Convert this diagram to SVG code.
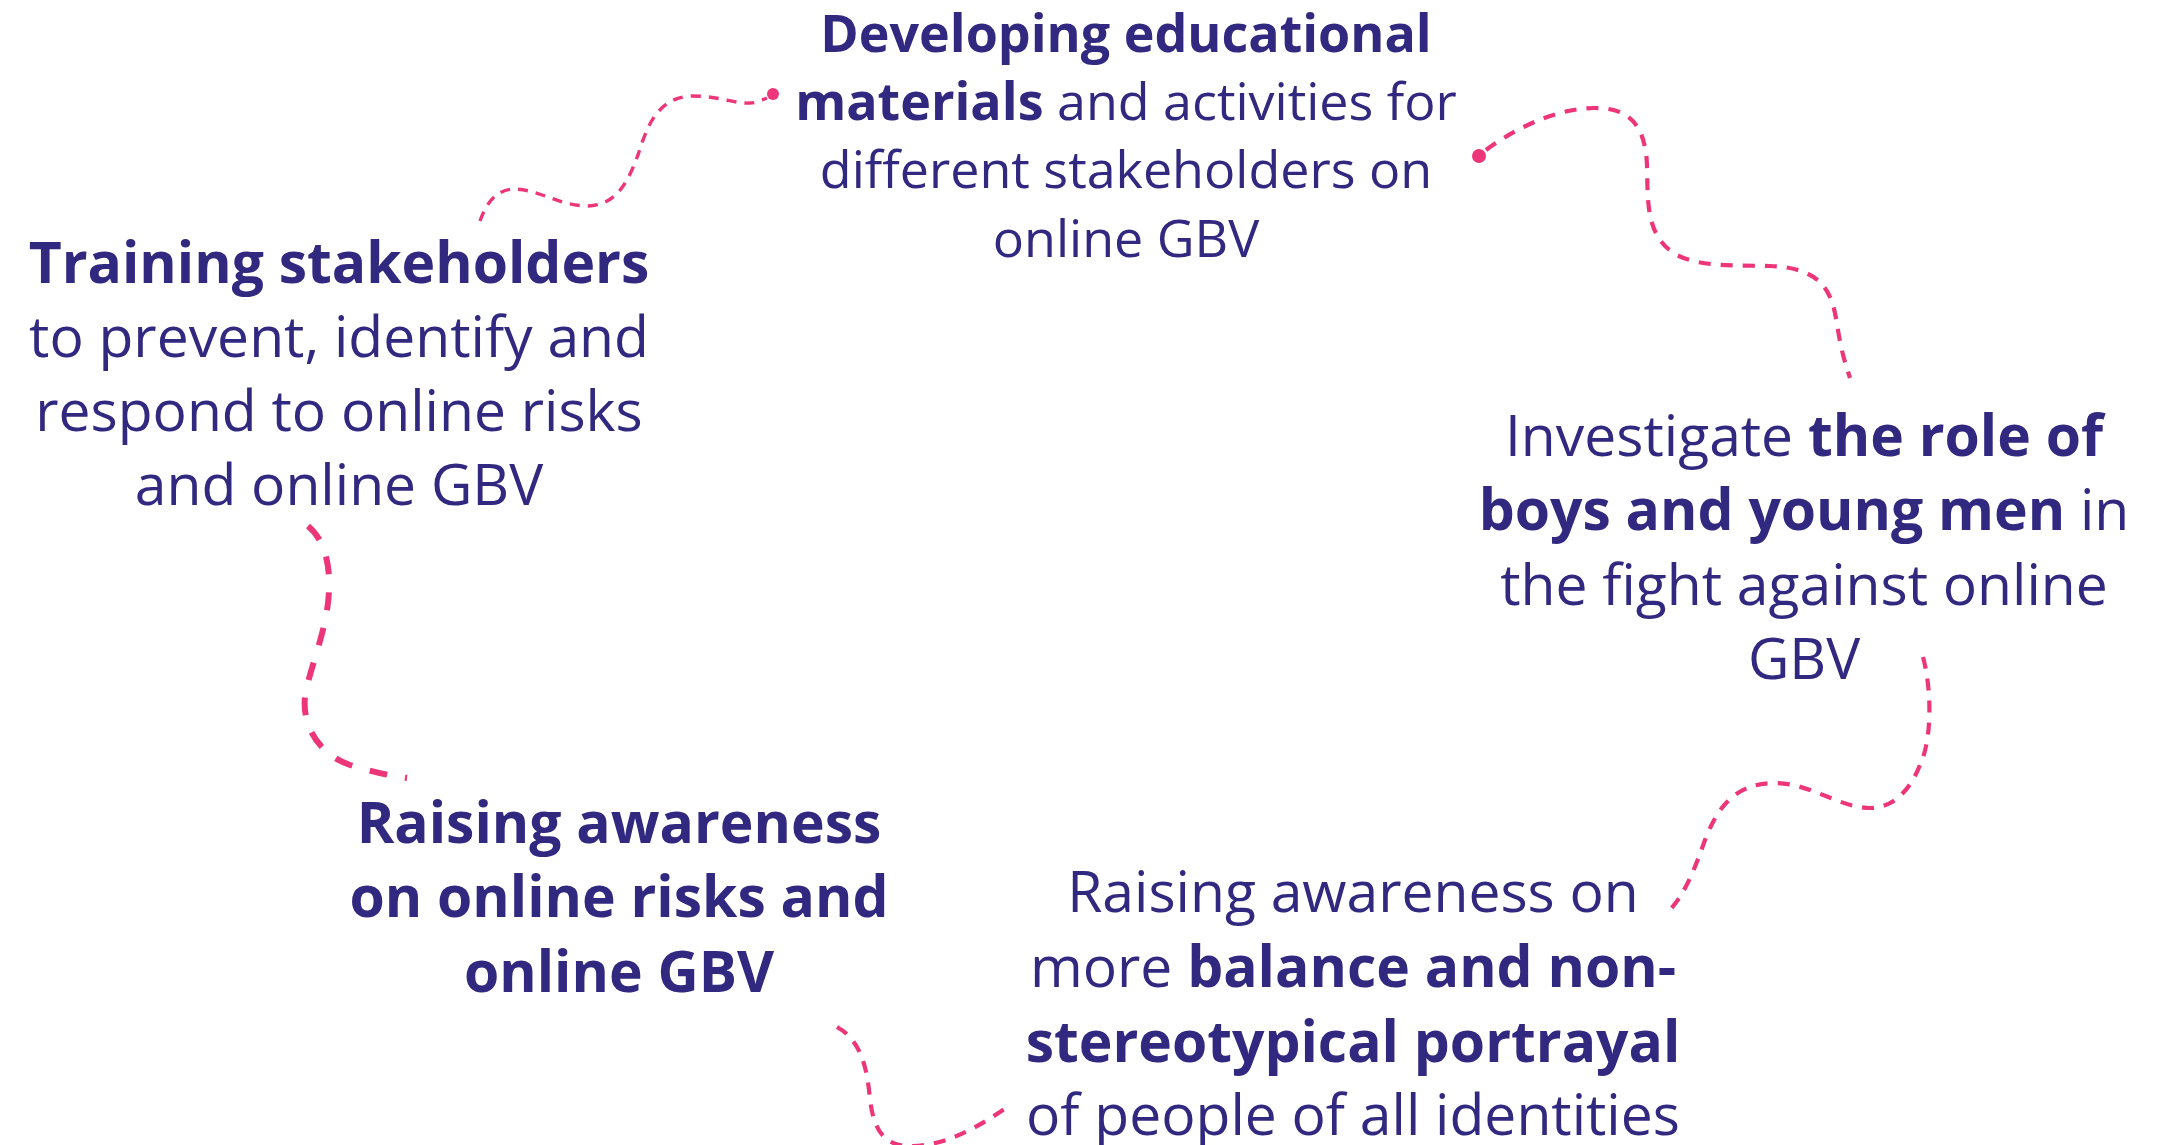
<svg xmlns="http://www.w3.org/2000/svg" width="2171" height="1145" viewBox="0 0 2171 1145">
<style>
.t{font-family:"Open Sans","Liberation Sans",sans-serif;fill:#31287f;text-anchor:middle;font-weight:400}
.s52{font-size:52px}
.s57{font-size:57px}
.b{font-weight:700}
.c{fill:none;stroke:#ec3679;stroke-linecap:butt}
.thin{stroke-width:3.4;stroke-dasharray:10 8}
.mid{stroke-width:4.2;stroke-dasharray:12 10}
.thick{stroke-width:6;stroke-dasharray:18 18}
.dot{fill:#ec3679}
</style>
<rect width="2171" height="1145" fill="#ffffff"/>
<g id="connectors">
<path class="c thin" d="M480 221 C488 198 500 189 515 189 C540 190 560 206 588 206 C620 205 630 175 638 155 C646 130 656 97 692 96 C720 96 735 104 750 103 C756 103 762 100 767 98"/>
<circle class="dot" cx="773" cy="94" r="6"/>
<path class="c mid" d="M1486 150 C1520 125 1560 108 1595 108 C1625 108 1645 120 1647 165 C1648 200 1645 235 1675 254 C1700 268 1740 265 1770 266 C1830 268 1833 300 1838 330 C1842 355 1846 365 1850 378"/>
<circle class="dot" cx="1479" cy="156" r="7"/>
<path class="c thick" d="M308 526 C325 540 330 565 329 590 C328 625 313 660 306 690 C299 725 320 755 350 765 C370 771 390 776 407 778"/>
<path class="c mid" d="M1923 657 C1932 690 1932 740 1920 765 C1908 795 1890 808 1870 808 C1840 808 1810 783 1775 783 C1730 783 1715 815 1705 840 C1695 868 1685 895 1667 913"/>
<path class="c mid" d="M837 1027 C860 1040 866 1065 869 1090 C872 1125 880 1143 905 1146 C940 1148 975 1130 1010 1105"/>
</g>
<g id="node-educational">
<text class="t s52" x="1126" y="51.5"><tspan class="b">Developing educational</tspan></text>
<text class="t s52" x="1126" y="119.5"><tspan class="b">materials</tspan> and activities for</text>
<text class="t s52" x="1126" y="188">different stakeholders on</text>
<text class="t s52" x="1126" y="256.5">online GBV</text>
</g>
<g id="node-training">
<text class="t s57" x="339" y="283"><tspan class="b">Training stakeholders</tspan></text>
<text class="t s57" x="339" y="357">to prevent, identify and</text>
<text class="t s57" x="339" y="431">respond to online risks</text>
<text class="t s57" x="339" y="505">and online GBV</text>
</g>
<g id="node-boys">
<text class="t s57" x="1804" y="456">Investigate <tspan class="b">the role of</tspan></text>
<text class="t s57" x="1804" y="530"><tspan class="b">boys and young men</tspan> in</text>
<text class="t s57" x="1804" y="604.5">the fight against online</text>
<text class="t s57" x="1804" y="678.5">GBV</text>
</g>
<g id="node-awareness-risks">
<text class="t s57 b" x="619" y="843">Raising awareness</text>
<text class="t s57 b" x="619" y="917">on online risks and</text>
<text class="t s57 b" x="619" y="992">online GBV</text>
</g>
<g id="node-portrayal">
<text class="t s57" x="1353" y="912">Raising awareness on</text>
<text class="t s57" x="1353" y="987">more <tspan class="b">balance and non-</tspan></text>
<text class="t s57" x="1353" y="1062"><tspan class="b">stereotypical portrayal</tspan></text>
<text class="t s57" x="1353" y="1135">of people of all identities</text>
</g>
</svg>
